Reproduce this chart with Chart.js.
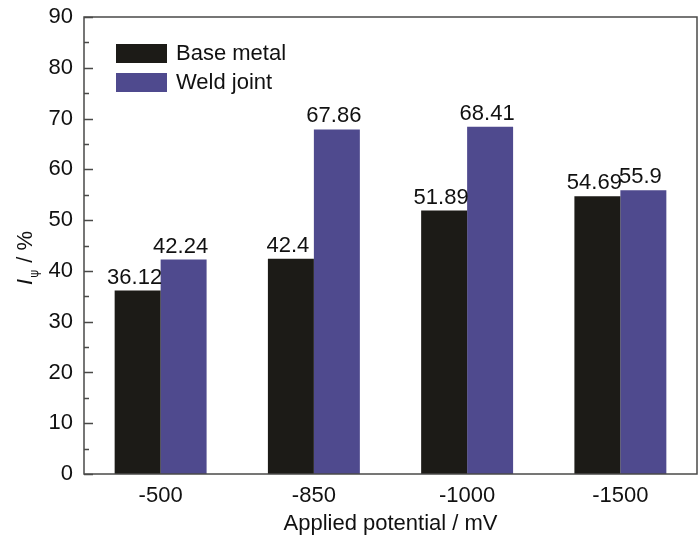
<!DOCTYPE html>
<html>
<head>
<meta charset="utf-8">
<script src="https://cdn.jsdelivr.net/npm/chart.js@4.4.1/dist/chart.umd.min.js"></script>
<style>
  html, body { margin: 0; padding: 0; background: #fff; }
  #wrap { width: 700px; height: 542px; }
</style>
</head>
<body>
<div id="wrap"><canvas id="myChart" width="700" height="542"></canvas></div>
<script>
const categories = ['-500', '-850', '-1000', '-1500'];
const baseMetal = [36.12, 42.4, 51.89, 54.69];
const weldJoint = [42.24, 67.86, 68.41, 55.9];
const baseLabels = ['36.12', '42.4', '51.89', '54.69'];
const weldLabels = ['42.24', '67.86', '68.41', '55.9'];
const yTicks = [0, 10, 20, 30, 40, 50, 60, 70, 80, 90];

const FONT = '"Liberation Sans", Arial, sans-serif';
const AXIS = '#4a4a48';

// frame around plot + inward ticks (major every 10, minor every 5)
const framePlugin = {
    id: 'frame',
    afterDraw(chart) {
        const ctx = chart.ctx;
        const a = chart.chartArea;
        const y = chart.scales.y;
        ctx.save();
        ctx.strokeStyle = AXIS;
        ctx.lineWidth = 1.5;
        ctx.strokeRect(a.left, a.top, a.right - a.left, a.bottom - a.top);
        ctx.beginPath();
        for (let v = y.min; v <= y.max; v += 5) {
            const py = Math.round(y.getPixelForValue(v)) + 0.5;
            const len = v % 10 === 0 ? 9 : 5;
            ctx.moveTo(a.left, py);
            ctx.lineTo(a.left + len, py);
        }
        ctx.stroke();
        ctx.restore();
    }
};

// value labels over bars
const valuePlugin = {
    id: 'values',
    afterDatasetsDraw(chart) {
        const ctx = chart.ctx;
        const sets = [baseLabels, weldLabels];
        ctx.save();
        ctx.font = '22px ' + FONT;
        ctx.fillStyle = '#111';
        ctx.textAlign = 'center';
        ctx.textBaseline = 'alphabetic';
        chart.data.datasets.forEach((ds, i) => {
            chart.getDatasetMeta(i).data.forEach((bar, j) => {
                ctx.fillText(sets[i][j], bar.x - 3, bar.y - 7);
            });
        });
        ctx.restore();
    }
};

// legend in the top-left corner of the plot
const legendPlugin = {
    id: 'cornerLegend',
    afterDraw(chart) {
        const ctx = chart.ctx;
        const a = chart.chartArea;
        ctx.save();
        ctx.font = '22px ' + FONT;
        ctx.textBaseline = 'middle';
        chart.data.datasets.forEach((ds, i) => {
            const top = a.top + 27 + i * 29;
            ctx.fillStyle = ds.backgroundColor;
            ctx.fillRect(a.left + 32, top, 51, 19);
            ctx.fillStyle = '#111';
            ctx.fillText(ds.label, a.left + 92, top + 10);
        });
        ctx.restore();
    }
};

// y title with italic I and subscript psi
const yTitlePlugin = {
    id: 'yTitle',
    afterDraw(chart) {
        const ctx = chart.ctx;
        ctx.save();
        ctx.translate(24, 258);
        ctx.rotate(-Math.PI / 2);
        ctx.fillStyle = '#111';
        ctx.textBaseline = 'alphabetic';
        const fI = 'italic 22px ' + FONT, fSub = '12px "DejaVu Sans", sans-serif', fR = '22px ' + FONT;
        ctx.font = fI; const wI = ctx.measureText('I').width;
        ctx.font = fSub; const wS = ctx.measureText('\u03C8').width;
        ctx.font = fR; const wR = ctx.measureText(' / %').width;
        let x = -(wI + wS + 2 + wR) / 2;
        ctx.font = fI; ctx.fillText('I', x, 8); x += wI + 1;
        ctx.font = fSub; ctx.fillText('\u03C8', x, 14); x += wS + 1;
        ctx.font = fR; ctx.fillText(' / %', x, 8);
        ctx.restore();
    }
};

new Chart(document.getElementById('myChart'), {
    type: 'bar',
    data: {
        labels: categories,
        datasets: [{
            label: 'Base metal',
            data: baseMetal,
            backgroundColor: '#1c1b17',
            borderWidth: 0
        }, {
            label: 'Weld joint',
            data: weldJoint,
            backgroundColor: '#4f4a8e',
            borderWidth: 0
        }]
    },
    options: {
        responsive: false,
        animation: false,
        devicePixelRatio: 1,
        layout: { padding: { top: 17, right: 3, left: 0, bottom: 0 } },
        datasets: { bar: { categoryPercentage: 0.6, barPercentage: 1.0 } },
        plugins: {
            legend: { display: false },
            tooltip: { enabled: false }
        },
        scales: {
            x: {
                grid: { display: false, drawTicks: false },
                border: { display: false },
                ticks: { color: '#111', font: { family: FONT, size: 22 }, padding: 9 },
                title: {
                    display: true,
                    text: 'Applied potential / mV',
                    color: '#111',
                    font: { family: FONT, size: 22 },
                    padding: { top: 0, bottom: 5 }
                },
                afterFit(scale) {
                    scale.height = 68;
                    scale.paddingLeft = 0;
                    scale.paddingRight = 0;
                }
            },
            y: {
                min: 0,
                max: 90,
                afterBuildTicks(scale) { scale.ticks = yTicks.map(v => ({ value: v })); },
                grid: { display: false, drawTicks: false },
                border: { display: false },
                ticks: { color: '#111', font: { family: FONT, size: 22 }, padding: 11 },
                afterFit(scale) {
                    scale.width = 84;
                    scale.paddingTop = 0;
                    scale.paddingBottom = 0;
                }
            }
        }
    },
    plugins: [framePlugin, valuePlugin, legendPlugin, yTitlePlugin]
});
</script>
</body>
</html>
